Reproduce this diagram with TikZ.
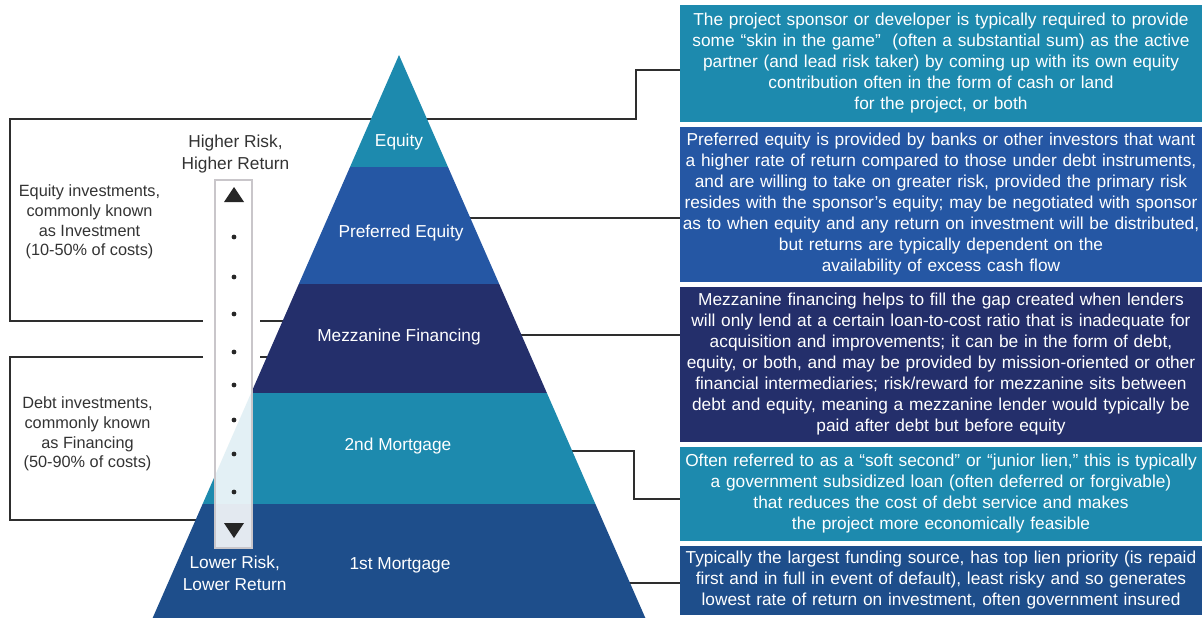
\documentclass[tikz,border=0pt]{standalone}
\usepackage{fontspec}
\setmainfont{Liberation Sans}
\definecolor{cteal}{HTML}{1D8AAE}
\definecolor{cpref}{HTML}{2557A4}
\definecolor{cmezz}{HTML}{242F6B}
\definecolor{cfirst}{HTML}{1E4E8B}
\definecolor{clinegray}{HTML}{2E2E2E}
\definecolor{cbar}{HTML}{C9C6CA}
\definecolor{ctext}{HTML}{333333}
\begin{document}
\begin{tikzpicture}[x=1pt,y=-1pt,
  conn/.style={draw=clinegray, line width=1.7pt},
  infobox/.style={minimum width=522pt, inner sep=0pt, text width=518pt, align=center,
    text=white, font=\fontsize{17.3}{21}\selectfont},
  layerlabel/.style={text=white, font=\fontsize{17.3}{21}\selectfont, inner sep=0pt},
  sidetext/.style={text=ctext, align=center, inner sep=0pt, font=\fontsize{16.3}{19.6}\selectfont},
  risktext/.style={align=center, inner sep=0pt, font=\fontsize{17.3}{21.5}\selectfont},
  dot/.style={circle, fill=black!85, inner sep=0pt, minimum size=4.8pt}
]
\useasboundingbox (0,0) rectangle (1204,618);

% info boxes
\node[infobox, fill=cteal, minimum height=117pt] (b1) at (941,63.5) {\rule{0pt}{3pt}The project sponsor or developer is typically required to provide\\
some “skin in the game”\ \ (often a substantial sum) as the active\\
partner (and lead risk taker) by coming up with its own equity\\
contribution often in the form of cash or land\\
for the project, or both};
\node[infobox, fill=cpref, minimum height=155pt] (b2) at (941,204.5) {Preferred equity is provided by banks or other investors that want\\
a higher rate of return compared to those under debt instruments,\\
and are willing to take on greater risk, provided the primary risk\\
resides with the sponsor’s equity; may be negotiated with sponsor\\
as to when equity and any return on investment will be distributed,\\
but returns are typically dependent on the\\
availability of excess cash flow};
\node[infobox, fill=cmezz, minimum height=155pt] (b3) at (941,364.5) {Mezzanine financing helps to fill the gap created when lenders\\
will only lend at a certain loan-to-cost ratio that is inadequate for\\
acquisition and improvements; it can be in the form of debt,\\
equity, or both, and may be provided by mission-oriented or other\\
financial intermediaries; risk/reward for mezzanine sits between\\
debt and equity, meaning a mezzanine lender would typically be\\
paid after debt but before equity};
\node[infobox, fill=cteal, minimum height=94pt] (b4) at (941,494) {Often referred to as a “soft second” or “junior lien,” this is typically\\
a government subsidized loan (often deferred or forgivable)\\
that reduces the cost of debt service and makes\\
the project more economically feasible};
\node[infobox, fill=cfirst, minimum height=69pt] (b5) at (941,580.5) {Typically the largest funding source, has top lien priority (is repaid\\
first and in full in event of default), least risky and so generates\\
lowest rate of return on investment, often government insured};

% connector coordinates
\coordinate (k1) at (636,70);
\coordinate (k2) at (636,119);
\coordinate (tl) at (10,119);
\coordinate (bl) at (10,321);
\coordinate (bg1) at (203,321);
\coordinate (bg2) at (260,321);
\coordinate (bp) at (330,321);
\coordinate (p2) at (440,218);
\coordinate (p3) at (500,335);
\coordinate (dt) at (330,357);
\coordinate (dg2) at (260,357);
\coordinate (dg1) at (203,357);
\coordinate (dtl) at (10,357);
\coordinate (dbl) at (10,520);
\coordinate (db) at (330,520);
\coordinate (k4a) at (550,451);
\coordinate (k4b) at (634,451);
\coordinate (k4c) at (634,499);
\coordinate (p5) at (600,583);

\draw[conn] (b1.west |- k1) -- (k1) -- (k2) -- (tl) -- (bl) -- (bg1);
\draw[conn] (bg2) -- (bp);
\draw[conn] (p2) -- (b2.west |- p2);
\draw[conn] (p3) -- (b3.west |- p3);
\draw[conn] (dt) -- (dg2);
\draw[conn] (dg1) -- (dtl) -- (dbl) -- (db);
\draw[conn] (k4a) -- (k4b) -- (k4c) -- (b4.west |- k4c);
\draw[conn] (p5) -- (b5.west |- p5);

% pyramid
\fill[cteal] (399,55) -- (448,167) -- (350,167) -- cycle;
\fill[cpref] (350,167) -- (448,167) -- (499.2,284) -- (298.8,284) -- cycle;
\fill[cmezz] (298.8,284) -- (499.2,284) -- (546.9,393) -- (251.1,393) -- cycle;
\fill[cteal] (251.1,393) -- (546.9,393) -- (595.4,504) -- (202.6,504) -- cycle;
\fill[cfirst] (202.6,504) -- (595.4,504) -- (645.8,619) -- (152.2,619) -- cycle;

\node[layerlabel] (l1) at (399,142) {Equity};
\node[layerlabel] (l2) at (401,233) {Preferred Equity};
\node[layerlabel] (l3) at (399,337) {Mezzanine Financing};
\node[layerlabel] (l4) at (398,446) {2nd Mortgage};
\node[layerlabel] (l5) at (400,565) {1st Mortgage};

% risk bar
\node[draw=cbar, line width=2.2pt, fill=white, fill opacity=0.88, minimum width=37pt, minimum height=368pt, inner sep=0pt] (bar) at (233.5,364) {};
\fill[black!85] (224,202) -- (244,202) -- (234,187) -- cycle;
\fill[black!85] (224,523) -- (244,523) -- (234,538) -- cycle;
\foreach \yy [count=\i] in {237,277,314,352,385,420,454,492}
  \node[dot] (d\i) at (234,\yy) {};

\node[risktext, text=ctext] (hr) at (235.5,154) {Higher Risk,\\Higher Return};
\node[risktext, text=white] (lr) at (234.7,573.5) {Lower Risk,\\Lower Return};

\node[sidetext] (eq) at (89.5,222) {Equity investments,\\commonly known\\as Investment\\(10-50\% of costs)};
\node[sidetext] (dbt) at (87.5,434) {Debt investments,\\commonly known\\as Financing\\(50-90\% of costs)};
\end{tikzpicture}
\end{document}
